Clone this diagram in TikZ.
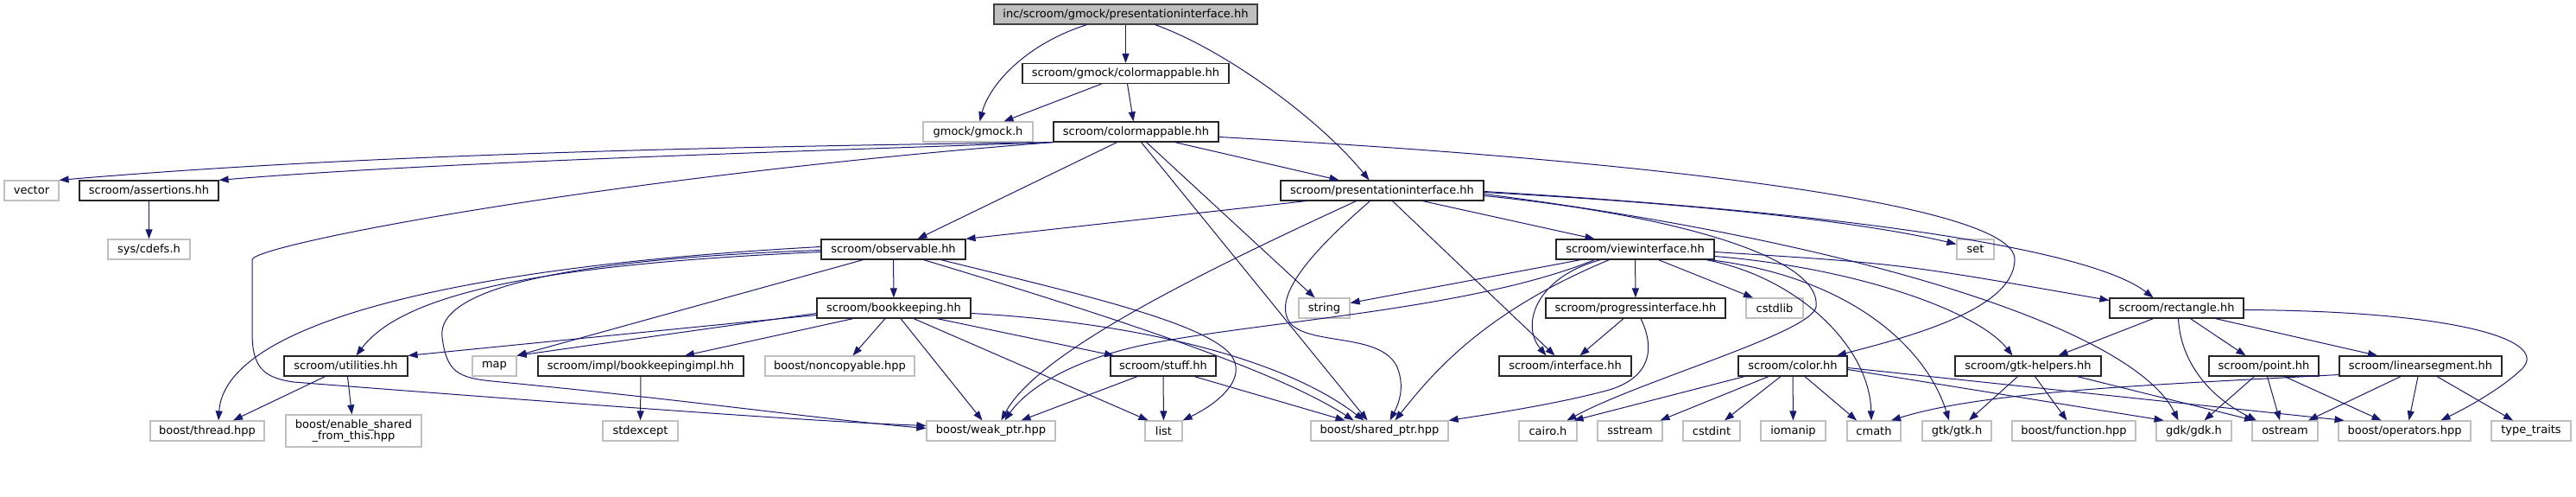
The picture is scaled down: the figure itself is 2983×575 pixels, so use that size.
\documentclass[tikz,border=0pt]{standalone}
\usepackage{fontspec}
\setmainfont{DejaVu Sans}
\usepackage{tikz}
\usetikzlibrary{arrows.meta}

\definecolor{edgecol}{HTML}{191970}
\definecolor{grey75}{HTML}{BFBFBF}

\tikzset{
  box/.style={minimum height=23pt, inner sep=0pt, line width=1.2pt, font=\fontsize{13}{15}\selectfont},
  hdr/.style={box, draw=black!85},
  ext/.style={box, draw=grey75},
  mainfile/.style={box, draw=black!75, fill=grey75},
  dep/.style={draw=edgecol, line width=1pt, -{Triangle[length=11pt,width=8pt]}}
}

\begin{document}
\begin{tikzpicture}[x=1pt, y=-1pt]
                \useasboundingbox (0,0) rectangle (2983,575);
                % headers
                \node[mainfile, minimum width=305pt] (top) at (1303.5,16.5) {inc/scroom/gmock/presentationinterface.hh};
                \node[hdr, minimum width=239pt] (gcm) at (1303.5,85) {scroom/gmock/colormappable.hh};
                \node[ext, minimum width=127pt] (gmock) at (1132.5,152.5) {gmock/gmock.h};
                \node[hdr, minimum width=191pt] (cm) at (1315.5,152.5) {scroom/colormappable.hh};
                \node[ext, minimum width=63pt] (vector) at (36.5,220.5) {vector};
                \node[hdr, minimum width=161pt] (assert) at (172.5,220.5) {scroom/assertions.hh};
                \node[hdr, minimum width=235pt] (pi) at (1600.5,220.5) {scroom/presentationinterface.hh};
                \node[ext, minimum width=95pt] (cdefs) at (172.5,288.5) {sys/cdefs.h};
                \node[hdr, minimum width=167pt] (obs) at (1034.5,288.5) {scroom/observable.hh};
                \node[hdr, minimum width=183pt] (vi) at (1893.5,288.5) {scroom/viewinterface.hh};
                \node[ext, minimum width=43pt] (set) at (2287.5,288.5) {set};
                \node[hdr, minimum width=178pt] (bk) at (1035,356.5) {scroom/bookkeeping.hh};
                \node[ext, minimum width=59pt] (string) at (1533.5,356.5) {string};
                \node[hdr, minimum width=208pt] (prog) at (1894,356.5) {scroom/progressinterface.hh};
                \node[ext, minimum width=66pt] (cstdlib) at (2055,356.5) {cstdlib};
                \node[hdr, minimum width=155pt] (rect) at (2520.5,356.5) {scroom/rectangle.hh};
                \node[hdr, minimum width=143pt] (util) at (400.5,423.5) {scroom/utilities.hh};
                \node[ext, minimum width=51pt] (map) at (572.5,423.5) {map};
                \node[hdr, minimum width=238pt] (bkimpl) at (742,423.5) {scroom/impl/bookkeepingimpl.hh};
                \node[ext, minimum width=173pt] (noncopy) at (972.5,423.5) {boost/noncopyable.hpp};
                \node[hdr, minimum width=122pt] (stuff) at (1347,423.5) {scroom/stuff.hh};
                \node[hdr, minimum width=153pt] (iface) at (1812.5,423.5) {scroom/interface.hh};
                \node[hdr, minimum width=126pt] (color) at (2076,423.5) {scroom/color.hh};
                \node[hdr, minimum width=169pt] (gtkh) at (2348.5,423.5) {scroom/gtk-helpers.hh};
                \node[hdr, minimum width=127pt] (point) at (2621.5,423.5) {scroom/point.hh};
                \node[hdr, minimum width=188pt] (lseg) at (2803,423.5) {scroom/linearsegment.hh};
                % system headers
                \node[ext, minimum width=132pt] (thread) at (240,498.5) {boost/thread.hpp};
                \node[ext, minimum width=157pt, minimum height=37pt, align=center, font=\fontsize{13}{13.5}\selectfont] (enable) at (409.5,498.5) {boost/enable\_shared\\\_from\_this.hpp};
                \node[ext, minimum width=87pt] (stdexcept) at (741.5,498.5) {stdexcept};
                \node[ext, minimum width=149pt] (weak) at (1147.5,498.5) {boost/weak\_ptr.hpp};
                \node[ext, minimum width=43pt] (list) at (1347.5,498.5) {list};
                \node[ext, minimum width=159pt] (shared) at (1597.5,498.5) {boost/shared\_ptr.hpp};
                \node[ext, minimum width=67pt] (cairo) at (1792.5,498.5) {cairo.h};
                \node[ext, minimum width=75pt] (sstream) at (1887.5,498.5) {sstream};
                \node[ext, minimum width=66pt] (cstdint) at (1982,498.5) {cstdint};
                \node[ext, minimum width=75pt] (iomanip) at (2076.5,498.5) {iomanip};
                \node[ext, minimum width=62pt] (cmath) at (2170,498.5) {cmath};
                \node[ext, minimum width=80pt] (gtk) at (2266,498.5) {gtk/gtk.h};
                \node[ext, minimum width=143pt] (function) at (2401.5,498.5) {boost/function.hpp};
                \node[ext, minimum width=87pt] (gdk) at (2540.5,498.5) {gdk/gdk.h};
                \node[ext, minimum width=76pt] (ostream) at (2646,498.5) {ostream};
                \node[ext, minimum width=153pt] (operators) at (2784.5,498.5) {boost/operators.hpp};
                \node[ext, minimum width=92pt] (traits) at (2931,498.5) {type\_traits};

                % top file
                \draw[dep] ([xshift=-45pt]top.south) .. controls (1185,52) and (1145,100) .. ([xshift=2pt]gmock.north);
                \draw[dep] (top) -- (gcm);
                \draw[dep] ([xshift=34pt]top.south) .. controls (1420,58) and (1530,140) .. ([xshift=-15pt]pi.north);
                \draw[dep] ([xshift=-28pt]gcm.south) -- ([xshift=30pt]gmock.north);
                \draw[dep] ([xshift=2pt]gcm.south) -- ([xshift=-3pt]cm.north);

                % colormappable
                \draw[dep] (cm.south west) .. controls (800,170) and (400,180) .. (vector.north east);
                \draw[dep] (cm.south west) .. controls (900,176) and (500,188) .. (assert.north east);
                \draw[dep] (cm.south west) .. controls (700,205) and (300,282) .. (292,300) -- (292,385) .. controls (292,425) and (305,437) .. (340,442) .. controls (700,470) and (950,488) .. ([yshift=6pt]weak.west);
                \draw[dep] ([xshift=-22pt]cm.south) -- ([xshift=28pt]obs.north);
                \draw[dep] ([xshift=12pt]cm.south) -- ([xshift=-11pt]string.north);
                \draw[dep] ([xshift=6pt]cm.south) -- ([xshift=-14pt]shared.north);
                \draw[dep] ([xshift=45pt]cm.south) -- ([xshift=-50pt]pi.north);
                \draw[dep] ([yshift=-6pt]cm.east) .. controls (1900,185) and (2333,235) .. (2333,300) .. controls (2333,360) and (2200,392) .. ([xshift=51pt]color.north);
                \draw[dep] (assert) -- (cdefs);

                % presentationinterface
                \draw[dep] ([xshift=-88pt]pi.south) -- (obs.north east);
                \draw[dep] ([xshift=-30pt]pi.south) .. controls (1380,320) and (1200,410) .. ([xshift=12pt]weak.north);
                \draw[dep] ([xshift=-14pt]pi.south) .. controls (1520,290) and (1470,345) .. (1495,375) .. controls (1520,400) and (1600,385) .. (1618,425) .. controls (1628,450) and (1618,470) .. ([xshift=12pt]shared.north);
                \draw[dep] ([xshift=12pt]pi.south) -- ([xshift=-12pt]iface.north);
                \draw[dep] ([xshift=47pt]pi.south) -- ([xshift=-47pt]vi.north);
                \draw[dep] ([yshift=-2pt]pi.east) .. controls (1950,235) and (2150,255) .. ([yshift=6pt]set.west);
                \draw[dep] ([yshift=-1pt]pi.east) .. controls (2200,250) and (2430,295) .. ([xshift=-27pt]rect.north);
                \draw[dep] ([yshift=-4pt]pi.east) .. controls (2150,280) and (2470,380) .. ([xshift=-18pt]gdk.north);
                \draw[dep] ([yshift=-6pt]pi.east) .. controls (1950,250) and (2110,300) .. (2103,355) .. controls (2098,385) and (1900,440) .. ([xshift=22pt]cairo.north);

                % viewinterface
                \draw[dep] ([xshift=-63pt]vi.south) -- ([yshift=6pt]string.east);
                \draw[dep] ([xshift=-47pt]vi.south) .. controls (1700,360) and (1450,372) .. (1320,400) .. controls (1230,420) and (1185,455) .. ([xshift=16pt]weak.north);
                \draw[dep] ([xshift=-40pt]vi.south) .. controls (1780,320) and (1760,375) .. ([xshift=-22pt]iface.north);
                \draw[dep] ([xshift=-30pt]vi.south) .. controls (1720,360) and (1660,430) .. ([xshift=18pt]shared.north);
                \draw[dep] (vi) -- (prog);
                \draw[dep] ([xshift=27pt]vi.south) -- ([xshift=-25pt]cstdlib.north);
                \draw[dep] ([yshift=-3pt]vi.east) .. controls (2200,305) .. ([yshift=9pt]rect.west);
                \draw[dep] ([yshift=-8pt]vi.east) .. controls (2150,310) and (2290,360) .. ([xshift=-18pt]gtkh.north);
                \draw[dep] ([xshift=82pt]vi.south) .. controls (2080,320) and (2165,400) .. ([xshift=-3pt]cmath.north);
                \draw[dep] ([xshift=86pt]vi.south) .. controls (2140,320) and (2230,400) .. ([xshift=-9pt]gtk.north);
                \draw[dep] ([xshift=-14pt]prog.south) -- ([xshift=17pt]iface.north);
                \draw[dep] ([xshift=6pt]prog.south) .. controls (1920,410) and (1905,440) .. (1860,452) .. controls (1800,468) and (1720,480) .. (shared.north east);

                % observable, bookkeeping
                \draw[dep] (obs) -- (bk);
                \draw[dep] ([yshift=-3pt]obs.west) .. controls (650,305) and (470,335) .. ([xshift=12pt]util.north);
                \draw[dep] ([yshift=3pt]obs.west) .. controls (500,310) and (260,380) .. ([xshift=13pt]thread.north);
                \draw[dep] ([xshift=-35pt]obs.south) -- (map.north east);
                \draw[dep] ([yshift=-1pt]obs.west) .. controls (650,300) and (505,335) .. (512,390) .. controls (517,430) and (530,437) .. (570,441) .. controls (800,463) and (950,485) .. ([yshift=3pt]weak.west);
                \draw[dep] ([xshift=35pt]obs.south) .. controls (1300,370) and (1480,430) .. ([xshift=-30pt]shared.north);
                \draw[dep] ([xshift=55pt]obs.south) .. controls (1250,340) and (1380,370) .. (1420,405) .. controls (1448,430) and (1420,462) .. (list.north east);
                \draw[dep] ([yshift=-8pt]bk.west) -- (util.north east);
                \draw[dep] ([yshift=-6pt]bk.west) -- (map.north east);
                \draw[dep] ([xshift=-47pt]bk.south) -- ([xshift=51pt]bkimpl.north);
                \draw[dep] ([xshift=-10pt]bk.south) -- ([xshift=15pt]noncopy.north);
                \draw[dep] ([xshift=8pt]bk.south) -- ([xshift=-10pt]weak.north);
                \draw[dep] ([xshift=23pt]bk.south) -- ([xshift=-18pt]list.north);
                \draw[dep] ([xshift=50pt]bk.south) -- ([xshift=-57pt]stuff.north);
                \draw[dep] ([yshift=-6pt]bk.east) .. controls (1300,372) and (1480,410) .. ([xshift=-18pt]shared.north);
                \draw[dep] ([xshift=-24pt]util.south) -- ([xshift=30pt]thread.north);
                \draw[dep] ([xshift=2pt]util.south) -- ([xshift=-2pt]enable.north);
                \draw[dep] (bkimpl) -- (stdexcept);
                \draw[dep] ([xshift=-30pt]stuff.south) -- ([xshift=35pt]weak.north);
                \draw[dep] (stuff) -- (list);
                \draw[dep] ([xshift=36pt]stuff.south) -- ([xshift=-40pt]shared.north);

                % rectangle and friends
                \draw[dep] ([xshift=-27pt]rect.south) -- ([xshift=35pt]gtkh.north);
                \draw[dep] ([xshift=2pt]rect.south) .. controls (2525,420) and (2560,460) .. ([xshift=-33pt]ostream.north);
                \draw[dep] ([xshift=16pt]rect.south) -- ([xshift=-21pt]point.north);
                \draw[dep] ([xshift=45pt]rect.south) -- ([xshift=-50pt]lseg.north);
                \draw[dep] ([yshift=-2pt]rect.east) .. controls (2850,360) and (2960,395) .. (2917,430) .. controls (2895,450) and (2860,470) .. ([xshift=42pt]operators.north);
                \draw[dep] ([xshift=-12pt]gtkh.south) -- ([xshift=14pt]gtk.north);
                \draw[dep] ([xshift=8pt]gtkh.south) -- ([xshift=-8pt]function.north);
                \draw[dep] ([xshift=57pt]gtkh.south) -- ([xshift=-36pt]ostream.north);
                \draw[dep] ([xshift=-56pt]color.south) -- ([xshift=30pt]cairo.north);
                \draw[dep] ([xshift=-28pt]color.south) -- ([xshift=35pt]sstream.north);
                \draw[dep] ([xshift=-14pt]color.south) -- ([xshift=15pt]cstdint.north);
                \draw[dep] (color) -- (iomanip);
                \draw[dep] ([xshift=14pt]color.south) -- ([xshift=-20pt]cmath.north);
                \draw[dep] ([yshift=-4pt]color.east) -- ([xshift=-35pt]gdk.north);
                \draw[dep] ([yshift=-2pt]color.east) -- ([xshift=-70pt]operators.north);
                \draw[dep] ([xshift=-11pt]point.south) -- ([xshift=12pt]gdk.north);
                \draw[dep] ([xshift=4pt]point.south) -- ([xshift=-6pt]ostream.north);
                \draw[dep] ([xshift=24pt]point.south) -- ([xshift=-27pt]operators.north);
                \draw[dep] ([yshift=-10pt]lseg.west) .. controls (2500,445) and (2300,452) .. ([xshift=20pt]cmath.north);
                \draw[dep] ([xshift=-23pt]lseg.south) -- ([xshift=27pt]ostream.north);
                \draw[dep] ([xshift=-3pt]lseg.south) -- ([xshift=5pt]operators.north);
                \draw[dep] ([xshift=19pt]lseg.south) -- ([xshift=-21pt]traits.north);
            \end{tikzpicture}
\end{document}
